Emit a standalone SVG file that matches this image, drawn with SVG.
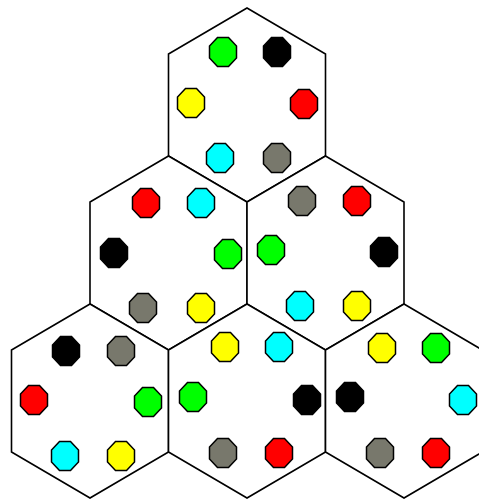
<svg xmlns="http://www.w3.org/2000/svg" width="479" height="499" viewBox="0 0 479 499">
<style>
.hex{fill:#fff;stroke:#000;stroke-width:1.6;stroke-linejoin:miter}
.d{stroke:#000;stroke-width:1.5}
.g{fill:#00ff00}.k{fill:#000}.y{fill:#ffff00}.r{fill:#ff0000}.c{fill:#00ffff}.m{fill:#78786c}
</style>
<defs>
<polygon id="o" points="-5.5,-14.5 5.5,-14.5 13.5,-6 13.5,6 5.5,14.5 -5.5,14.5 -13.5,6 -13.5,-6"/>
</defs>
<rect width="479" height="499" fill="#fff"/>
<g id="hex-top">
<polygon class="hex" points="247,8 325.5,54 325.5,156 247,202 168.5,156 168.5,54"/>
<use href="#o" class="d g" x="223" y="52"/>
<use href="#o" class="d k" x="277" y="52"/>
<use href="#o" class="d y" x="191" y="103"/>
<use href="#o" class="d r" x="304" y="104"/>
<use href="#o" class="d c" x="220" y="158"/>
<use href="#o" class="d m" x="277" y="158"/>
</g>
<g id="hex-mid-left">
<polygon class="hex" points="168.5,156 247,202 247,304 168.5,350 90,304 90,202"/>
<use href="#o" class="d r" x="146" y="203"/>
<use href="#o" class="d c" x="201" y="203"/>
<use href="#o" class="d k" x="114" y="253"/>
<use href="#o" class="d g" x="228" y="254"/>
<use href="#o" class="d m" x="143" y="308"/>
<use href="#o" class="d y" x="201" y="308"/>
</g>
<g id="hex-mid-right">
<polygon class="hex" points="325.5,156 404,202 404,304 325.5,350 247,304 247,202"/>
<use href="#o" class="d m" x="302" y="201"/>
<use href="#o" class="d r" x="357" y="201"/>
<use href="#o" class="d g" x="271" y="250"/>
<use href="#o" class="d k" x="384" y="252"/>
<use href="#o" class="d c" x="300" y="306"/>
<use href="#o" class="d y" x="357" y="306"/>
</g>
<g id="hex-bot-left">
<polygon class="hex" points="90,304 168.5,350 168.5,452 90,498 11.5,452 11.5,350"/>
<use href="#o" class="d k" x="66" y="351"/>
<use href="#o" class="d m" x="121" y="351"/>
<use href="#o" class="d r" x="34" y="400"/>
<use href="#o" class="d g" x="148" y="402"/>
<use href="#o" class="d c" x="65" y="456"/>
<use href="#o" class="d y" x="121" y="456"/>
</g>
<g id="hex-bot-mid">
<polygon class="hex" points="247,304 325.5,350 325.5,452 247,498 168.5,452 168.5,350"/>
<use href="#o" class="d y" x="225" y="347"/>
<use href="#o" class="d c" x="279" y="347"/>
<use href="#o" class="d g" x="193" y="397"/>
<use href="#o" class="d k" x="307" y="400"/>
<use href="#o" class="d m" x="223" y="453"/>
<use href="#o" class="d r" x="279" y="453"/>
</g>
<g id="hex-bot-right">
<polygon class="hex" points="404,304 482.5,350 482.5,452 404,498 325.5,452 325.5,350"/>
<use href="#o" class="d y" x="382" y="348"/>
<use href="#o" class="d g" x="436" y="348"/>
<use href="#o" class="d k" x="350" y="397"/>
<use href="#o" class="d c" x="463" y="400"/>
<use href="#o" class="d m" x="380" y="453"/>
<use href="#o" class="d r" x="436" y="453"/>
</g>
</svg>
